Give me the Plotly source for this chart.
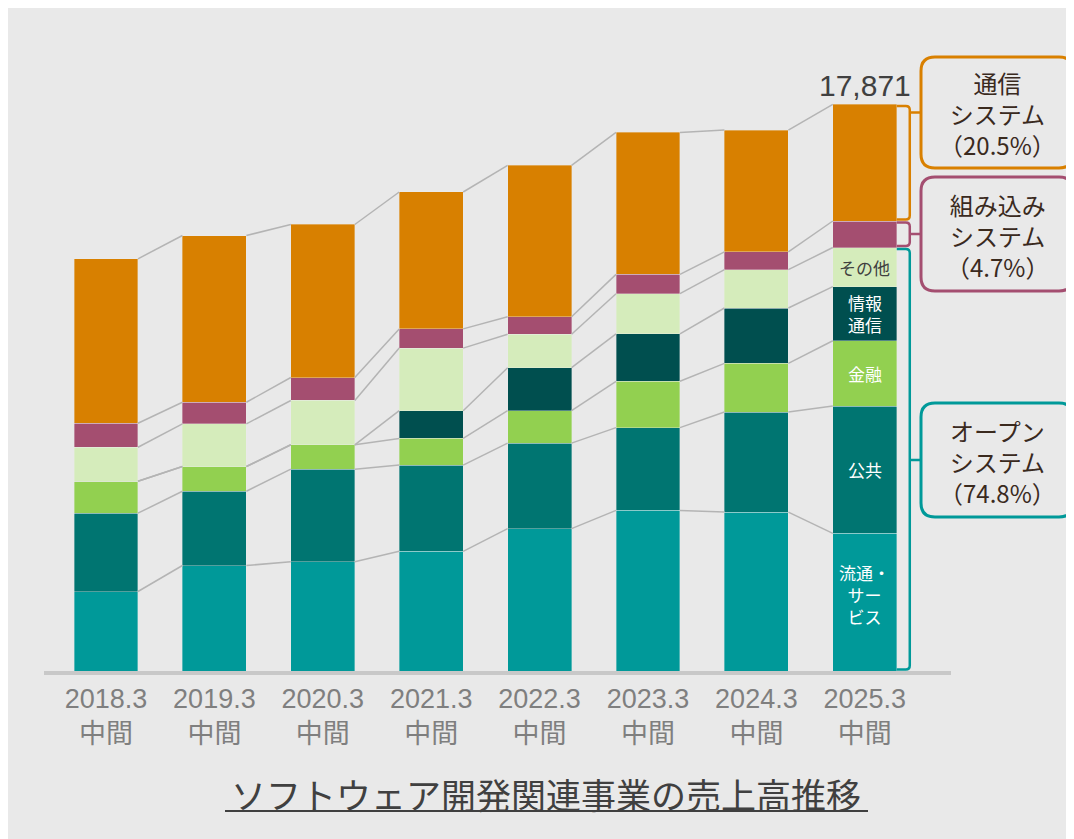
import plotly.graph_objects as go

# 年度（中間期）
categories = ["2018.3<br>中間", "2019.3<br>中間", "2020.3<br>中間", "2021.3<br>中間",
              "2022.3<br>中間", "2023.3<br>中間", "2024.3<br>中間", "2025.3<br>中間"]

# 売上高（百万円, 図から読み取り）
ryutsu = [2507, 3327, 3444, 3775, 4491, 5065, 5012, 4340]   # 流通・サービス
kokyo = [2470, 2343, 2921, 2719, 2697, 2612, 3157, 4015]    # 公共
kinyu = [1009, 779, 770, 842, 1022, 1460, 1533, 2060]       # 金融
joho = [0, 0, 0, 874, 1356, 1495, 1747, 1706]               # 情報通信
sonota = [1072, 1347, 1397, 1974, 1053, 1268, 1208, 1236]   # その他
kumikomi = [757, 681, 725, 606, 555, 609, 561, 836]         # 組み込みシステム
tsushin = [5185, 5258, 4826, 4318, 4775, 4479, 3842, 3678]  # 通信システム

seg_names = ["流通・サービス", "公共", "金融", "情報通信", "その他", "組み込みシステム", "通信システム"]
seg_labels = ["流通・<br>サー<br>ビス", "公共", "金融", "情報<br>通信", "その他", "", ""]
box_labels = ["通信<br>システム<br>（20.5%）", "組み込み<br>システム<br>（4.7%）", "オープン<br>システム<br>（74.8%）"]

series = [ryutsu, kokyo, kinyu, joho, sonota, kumikomi, tsushin]
colors = ["#009999", "#007571", "#92D050", "#004F4F", "#D5ECBB", "#A44E70", "#D88000"]
label_colors = ["white", "white", "white", "white", "#404040", "white", "white"]

# レイアウト（画面ピクセル; ページ余白8px分ずらす）
OFF = 8
W, H = 1074 - OFF, 839 - OFF
ML, MR, MT, MB = 44 - OFF, 0, 8 - OFF, 839 - 671
PW, PH = W - ML - MR, H - MT - MB
XR = [-0.572, 8.93]
YR = [0, 20911]
PX_X = PW / (XR[1] - XR[0])
PX_Y = PH / YR[1]
BW = 0.59

def xd(px):
    return px / PX_X

def yd(px):
    return px / PX_Y

def px_x(px):  # 画面x -> paper
    return (px - OFF - ML) / PW

def px_y(py):  # 画面y -> paper
    return (MT + PH - (py - OFF)) / PH

x = list(range(len(categories)))

# 累積値
cum = []
run = [0] * len(x)
for s in series:
    run = [a + b for a, b in zip(run, s)]
    cum.append(run)
total = cum[-1]

fig = go.Figure()

for s, name, col in zip(series, seg_names, colors):
    fig.add_trace(go.Bar(x=x, y=s, name=name, width=BW,
                         marker=dict(color=col, line=dict(color="rgba(235,235,235,0.45)", width=0.8)),
                         showlegend=False, hoverinfo="skip"))

# バー間の連結線
for c in cum:
    lx, ly = [], []
    for i in range(len(x) - 1):
        lx += [x[i] + BW / 2, x[i + 1] - BW / 2, None]
        ly += [c[i], c[i + 1], None]
    fig.add_trace(go.Scatter(x=lx, y=ly, mode="lines", line=dict(color="#B4B4B4", width=1.5),
                             showlegend=False, hoverinfo="skip"))

last = x[-1]
annotations = []
shapes = []

# 軸線
shapes.append(dict(type="line", xref="paper", yref="paper",
                   x0=px_x(44), x1=px_x(951), y0=px_y(673), y1=px_y(673),
                   line=dict(color="#C8C8C8", width=4)))

# 最終年度のセグメントラベル
bottoms = [[0] * len(x)] + cum[:-1]
for k, lab in enumerate(seg_labels):
    if not lab:
        continue
    mid = (bottoms[k][-1] + cum[k][-1]) / 2
    annotations.append(dict(x=last, y=mid, text=lab, showarrow=False,
                            xanchor="center", yanchor="middle",
                            yshift=8 if k == 0 else 0,
                            font=dict(family="Noto Sans CJK JP", size=17, color=label_colors[k])))

# 合計
annotations.append(dict(x=last, y=total[-1], text=f"{total[-1]:,}", showarrow=False,
                        xanchor="center", yanchor="bottom", yshift=0,
                        font=dict(family="Liberation Sans, Arial", size=30, color="#404040")))

# 右側のボックスと括弧
boxes = [(57, 168, "#D98000"), (177, 291, "#A44E70"), (403, 517, "#009999")]
groups = [(cum[5][-1], total[-1]), (cum[4][-1], cum[5][-1]), (0, cum[4][-1])]
BX0, BX1, R = 921, 1073, 14

def rrect(x0, y0, x1, y1, r):
    p = lambda a, b: f"{px_x(a)},{px_y(b)}"
    return (f"M {p(x0 + r, y0)} L {p(x1 - r, y0)} Q {p(x1, y0)} {p(x1, y0 + r)} "
            f"L {p(x1, y1 - r)} Q {p(x1, y1)} {p(x1 - r, y1)} L {p(x0 + r, y1)} "
            f"Q {p(x0, y1)} {p(x0, y1 - r)} L {p(x0, y0 + r)} Q {p(x0, y0)} {p(x0 + r, y0)} Z")

xe = last + BW / 2
xv = xe + xd(13)
xb = xe + xd(BX0 - 897)
rx, ry = xd(4), yd(4)
for (t, b, col), (lo, hi), lab in zip(boxes, groups, box_labels):
    lo2, hi2 = lo + yd(1.5), hi - yd(1.5)
    ym = px_y((t + b) / 2) * YR[1]
    path = (f"M {xe},{hi2} L {xv - rx},{hi2} Q {xv},{hi2} {xv},{hi2 - ry} "
            f"L {xv},{lo2 + ry} Q {xv},{lo2} {xv - rx},{lo2} L {xe},{lo2} "
            f"M {xv},{ym} L {xb},{ym}")
    shapes.append(dict(type="path", xref="x", yref="y", path=path,
                       line=dict(color=col, width=2.5)))
    shapes.append(dict(type="path", xref="paper", yref="paper", path=rrect(BX0, t, BX1, b, R),
                       fillcolor="#E9E9E9", line=dict(color=col, width=3)))
    annotations.append(dict(xref="paper", yref="paper", x=px_x((BX0 + BX1) / 2), y=px_y((t + b) / 2 + 1),
                            xanchor="center", yanchor="middle", text=lab, showarrow=False,
                            font=dict(family="Noto Sans CJK JP", size=24, color="#3A2A1E")))

# タイトル（下線付き）
annotations.append(dict(xref="paper", yref="paper", x=px_x(546), y=px_y(793),
                        xanchor="center", yanchor="middle",
                        text="ソフトウェア開発関連事業の売上高推移", showarrow=False,
                        font=dict(family="Noto Sans CJK JP", size=35, color="#404040")))
shapes.append(dict(type="line", xref="paper", yref="paper",
                   x0=px_x(225), x1=px_x(868), y0=px_y(811), y1=px_y(811),
                   line=dict(color="#404040", width=2)))

fig.update_layout(
    width=W, height=H,
    margin=dict(l=ML, r=MR, t=MT, b=MB),
    barmode="stack",
    paper_bgcolor="#E9E9E9",
    plot_bgcolor="#E9E9E9",
    shapes=shapes,
    annotations=annotations,
    showlegend=False,
)
fig.update_xaxes(range=XR, tickvals=x, ticktext=categories, showgrid=False, zeroline=False,
                 showline=False, ticks="", automargin=False, ticklabelstandoff=9,
                 tickfont=dict(family="Liberation Sans, Arial, Noto Sans CJK JP", size=27, color="#7F7F7F"))
fig.update_yaxes(range=YR, visible=False, showgrid=False, zeroline=False)

fig.write_html("out.html")
